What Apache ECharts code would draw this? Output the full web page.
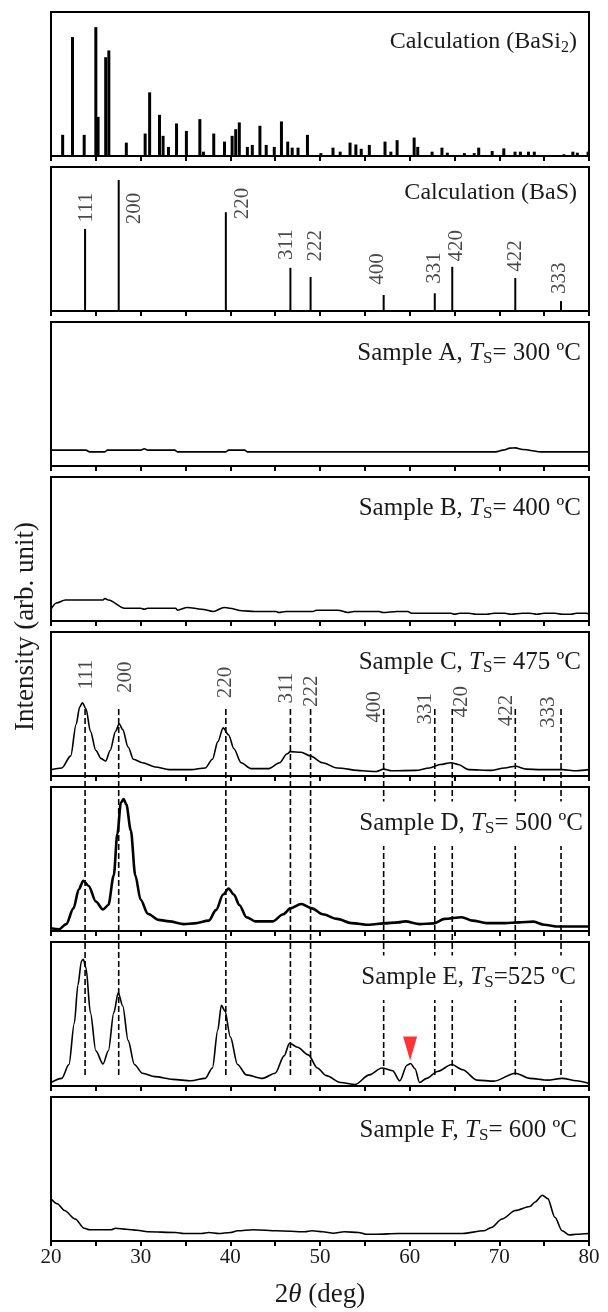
<!DOCTYPE html>
<html><head><meta charset="utf-8">
<script src="https://cdn.jsdelivr.net/npm/echarts@6/dist/echarts.min.js"></script>
<style>html,body{margin:0;padding:0;background:#fff}#c{width:608px;height:1312px}</style>
</head><body><div id="c"></div>
<script>
// ---------------- data ----------------
const xMin = 20, xMax = 80, xStep = 5;

// Calculation (BaSi2): line positions (deg) and relative intensity (%)
const basi2Pos = [21.3,22.4,23.7,25.0,25.25,26.1,26.45,28.4,30.5,31.0,32.1,32.5,33.1,34.0,35.1,36.6,37.0,38.15,39.35,40.2,40.6,41.0,41.9,42.45,43.3,44.0,44.9,45.7,46.4,46.9,47.55,48.6,50.1,51.45,52.25,53.35,54.0,54.6,55.5,57.25,57.9,58.6,60.5,60.9,62.5,63.6,64.2,66.1,67.2,67.7,69.2,70.5,71.75,72.35,73.25,73.9,77.2,78.2,78.7,79.9];
const basi2Int = [14.7,82.6,14.7,89.5,27.2,68.6,73.3,9.3,15.6,44.2,28.6,14.0,6.3,22.6,17.4,25.6,3.0,15.6,10.0,14.0,18.6,23.3,6.3,7.7,21.0,7.7,6.3,24.0,10.0,5.8,5.8,14.7,2.0,5.8,3.0,9.3,8.0,5.0,7.7,10.0,3.0,11.0,12.8,6.3,3.0,5.8,2.3,2.0,2.0,5.8,3.5,5.3,3.0,3.0,3.0,3.0,1.2,3.0,2.3,3.0];

// Calculation (BaS): reflections
const hkl = ['111','200','220','311','222','400','331','420','422','333'];
const basPos = [23.8,27.55,39.5,46.7,48.95,57.1,62.8,64.75,71.78,76.88];
const basInt = [57.0,91.0,68.6,30.0,23.6,11.1,12.3,30.7,22.9,6.9];

// measured patterns: [2theta, intensity %]
const sampleA = [[20,11.0],[23.9,11.0],[24.3,9.8],[26.0,9.8],[26.3,11.0],[30.0,11.0],[30.4,12.0],[30.8,11.0],[33.8,11.0],[34.1,9.8],[39.5,9.8],[39.8,11.0],[41.6,11.0],[41.9,9.8],[69.6,9.8],[70.4,11.0],[71.2,12.4],[71.8,12.6],[72.6,11.5],[74.8,9.8],[80,9.8]];
const sampleB = [[20,8.2],[20.6,12.5],[21.6,14.6],[25.8,14.6],[26.0,15.6],[26.4,14.6],[28.2,8.9],[30.0,8.9],[30.4,8.2],[30.8,8.9],[33.9,8.9],[34.1,7.5],[35.2,9.4],[36.8,8.2],[38.1,6.6],[39.3,9.4],[39.9,8.9],[41.3,7.1],[42.7,6.6],[45.1,6.6],[45.4,5.9],[46.2,6.6],[49.2,6.6],[49.6,7.5],[52.0,7.5],[53.1,5.9],[53.8,6.6],[56.6,6.6],[57.0,5.9],[58.6,6.6],[59.8,6.6],[60.2,5.4],[64.6,5.4],[65.0,4.7],[65.6,5.4],[66.6,5.4],[67.4,4.7],[68.6,4.7],[69.4,5.4],[70.6,5.4],[71.3,4.7],[72.6,5.4],[73.4,5.4],[74.2,4.7],[75.0,5.4],[76.2,5.4],[77.0,4.7],[78.0,4.7],[78.6,5.4],[79.7,5.4],[80,4.7]];
const sampleC = [[20,4.4],[21.2,5.6],[22.2,14.0],[22.8,35.8],[23.2,47.9],[23.5,50.8],[23.9,46.7],[24.4,31.0],[25.0,17.7],[25.6,12.1],[26.1,10.4],[26.6,17.7],[27.2,31.0],[27.6,36.3],[28.0,32.2],[28.6,20.1],[29.2,11.6],[30.2,9.2],[31.6,6.3],[33.2,4.4],[35.6,4.4],[37.2,5.6],[38.0,11.6],[38.6,23.7],[39.2,33.4],[39.8,28.6],[40.4,18.9],[41.2,9.2],[42.3,5.1],[44.3,5.1],[45.5,9.2],[46.3,15.3],[46.7,16.9],[47.9,16.5],[48.9,14.0],[50.3,9.2],[51.9,5.6],[54.7,3.6],[56.3,3.1],[57.1,4.8],[58.0,3.6],[60.7,3.9],[62.2,5.6],[63.4,8.0],[64.6,9.2],[65.4,8.0],[66.6,4.4],[69.0,3.9],[70.6,5.6],[71.8,6.8],[73.0,4.8],[74.6,4.4],[77.0,4.4],[78.6,3.6],[80,4.4]];
const sampleD = [[20,1.9],[20.9,1.2],[21.7,4.8],[22.5,15.7],[23.1,28.9],[23.6,34.9],[24.2,31.3],[25.0,20.5],[25.8,14.9],[26.4,18.1],[27.0,38.6],[27.4,67.5],[27.8,89.2],[28.1,91.6],[28.4,88.0],[28.9,69.9],[29.4,38.6],[30.0,21.7],[30.8,12.0],[32.0,7.7],[33.2,6.7],[34.8,4.8],[36.0,5.3],[37.6,7.2],[38.4,14.5],[39.2,25.3],[39.8,29.4],[40.4,25.3],[41.0,18.1],[41.8,9.6],[42.8,6.7],[44.7,6.7],[45.9,11.6],[46.7,15.7],[47.9,18.8],[49.1,15.7],[50.3,11.6],[51.9,8.4],[53.5,5.5],[55.5,4.3],[57.1,5.3],[58.7,6.0],[59.5,6.7],[61.1,4.8],[62.7,5.3],[63.9,8.4],[65.8,9.6],[67.0,7.2],[68.6,5.5],[70.6,5.5],[72.2,6.0],[73.8,6.5],[75.0,4.3],[76.6,3.1],[80,3.1]];
const sampleE = [[20,2.4],[21.2,5.3],[22.0,14.9],[22.6,43.6],[23.0,70.0],[23.4,86.8],[23.6,88.0],[23.9,82.0],[24.4,50.8],[25.0,24.5],[25.8,15.3],[26.4,24.5],[27.0,50.8],[27.5,64.7],[28.0,55.6],[28.6,31.7],[29.3,14.9],[30.2,8.9],[31.6,6.5],[33.6,4.6],[35.6,3.6],[37.2,5.3],[38.0,12.5],[38.6,38.8],[39.0,56.1],[39.4,52.0],[40.0,34.1],[40.8,14.9],[41.8,7.7],[43.6,5.3],[45.0,8.9],[46.0,20.9],[46.6,29.7],[47.5,26.9],[48.7,21.6],[49.7,12.5],[50.7,7.2],[52.3,2.4],[53.9,1.0],[55.5,7.7],[56.9,12.5],[58.1,10.6],[58.9,3.6],[59.7,14.4],[60.1,15.6],[60.6,12.0],[61.1,2.4],[61.9,5.3],[63.1,10.1],[64.7,14.9],[65.9,11.3],[67.5,4.1],[69.4,3.4],[71.8,8.9],[73.4,5.3],[75.4,4.1],[77.0,5.3],[78.6,3.6],[80,1.7]];
const sampleF = [[20,29.4],[20.7,25.9],[21.5,21.2],[22.7,15.3],[23.7,8.9],[24.3,7.8],[26.7,7.8],[27.2,8.9],[28.4,8.2],[29.6,7.5],[30.8,6.4],[33.9,5.9],[34.8,5.2],[36.8,5.2],[37.6,5.9],[38.7,5.2],[40.0,5.9],[40.8,7.1],[42.6,7.8],[45.2,7.1],[48.3,6.4],[49.1,7.1],[50.3,6.4],[51.5,5.4],[52.7,6.4],[54.3,5.9],[55.1,4.7],[56.3,4.7],[58.7,5.2],[62.7,5.2],[65.9,5.2],[68.3,7.1],[69.1,9.4],[70.3,15.3],[71.8,21.2],[73.4,24.0],[74.0,27.1],[74.8,31.8],[75.4,29.4],[76.2,16.5],[77.0,7.1],[77.8,4.2],[78.6,4.7],[80,5.2]];

// red marker (unidentified peak in sample E): [2theta, level %]
const redMark = [60.05, 26];

// panel texts
const panelText = [
  '{c|Calculation (BaSi}{cs|2}{c|)}',
  '{c|Calculation (BaS)}',
  '{n|Sample A, }{i|T}{s|S}{n|= 300 ºC}',
  '{n|Sample B, }{i|T}{s|S}{n|= 400 ºC}',
  '{n|Sample C, }{i|T}{s|S}{n|= 475 ºC}',
  '{n|Sample D, }{i|T}{s|S}{n|= 500 ºC}',
  '{n|Sample E, }{i|T}{s|S}{n|=525 ºC}',
  '{n|Sample F, }{i|T}{s|S}{n|= 600 ºC}'
];
const xTitle = '{n|2}{i|θ}{n| (deg)}';
const yTitle = 'Intensity (arb. unit)';

// ---------------- layout (pixels / label anchors) ----------------
const LEFT = 51, RIGHT = 19, TOP0 = 12, PITCH = 155, PH = 144;
const textCenter = [30, 26, 31, 31, 30, 36, 35, 33];
const textRight  = [31, 31, 27, 27, 27, 25, 32, 31];
// hkl label anchors (label foot) in panel 2 and panel 5: [deg, % height]
const basLabelAt = [[23.98,61.5],[29.36,60.3],[41.3,63.8],[46.27,35.5],[49.46,34.3],[56.42,18.2],[62.8,18.9],[65.18,34.3],[71.75,27.2],[76.73,11.8]];
const cLabelAt   = [[23.98,60],[28.36,57.6],[39.43,54],[46.27,50.4],[49.06,47.9],[56.03,37],[61.8,35.8],[65.78,40.7],[70.76,34.6],[75.53,33.4]];
const DASH_TOP = 709, DASH_BOTTOM = 1075;

const FONT = 'Liberation Serif';
const TXT = '#1a1a1a';
const rich = {
  c: {fontFamily: FONT, fontSize: 24, fontWeight: 'normal', color: TXT, lineHeight: 28},
  cs: {fontFamily: FONT, fontSize: 16, fontWeight: 'normal', color: TXT, lineHeight: 16, verticalAlign: 'bottom'},
  n: {fontFamily: FONT, fontSize: 25, fontWeight: 'normal', color: TXT, lineHeight: 28},
  i: {fontFamily: FONT, fontSize: 25, fontWeight: 'normal', fontStyle: 'italic', color: TXT, lineHeight: 28},
  s: {fontFamily: FONT, fontSize: 17, fontWeight: 'normal', color: TXT, lineHeight: 16, verticalAlign: 'bottom'}
};

const grids = [], xAxes = [], yAxes = [], series = [], titles = [];
for (let i = 0; i < 8; i++) {
  const top = TOP0 + i * PITCH;
  grids.push({left: LEFT, right: RIGHT, top: top, height: PH, show: true,
    borderColor: '#000', borderWidth: 2, backgroundColor: 'transparent'});
  xAxes.push({
    type: 'value', gridIndex: i, min: xMin, max: xMax, interval: xStep,
    axisLine: {show: true, onZero: false, lineStyle: {color: '#000', width: 2}},
    axisTick: {show: true, inside: false, length: 5, lineStyle: {color: '#000', width: 2}},
    splitLine: {show: false},
    axisLabel: {show: i === 7, margin: 6, fontFamily: FONT, fontSize: 21, color: TXT,
      formatter: v => (v % 10 === 0 ? String(v) : ''), showMinLabel: true, showMaxLabel: true},
    name: i === 7 ? xTitle : '', nameLocation: 'middle', nameGap: 40,
    nameTextStyle: {rich: {
      n: {fontFamily: FONT, fontSize: 27, color: TXT},
      i: {fontFamily: FONT, fontSize: 27, fontStyle: 'italic', color: TXT}}}
  });
  yAxes.push({type: 'value', gridIndex: i, min: 0, max: 100, show: false});
  const bg = (i === 5 || i === 6);
  titles.push({
    text: panelText[i], right: textRight[i] - (bg ? 4 : 0), top: top + textCenter[i] - 14 - (bg ? 9 : 0),
    padding: bg ? [9, 4] : 0, backgroundColor: bg ? '#fff' : 'transparent',
    textStyle: {fontWeight: 'normal', rich: rich}
  });
}
// overlay grid for dashed reference lines
grids.push({left: LEFT, right: RIGHT, top: DASH_TOP, height: DASH_BOTTOM - DASH_TOP, show: false});
xAxes.push({type: 'value', gridIndex: 8, min: xMin, max: xMax, show: false});
yAxes.push({type: 'value', gridIndex: 8, min: 0, max: 1, show: false});
// overlay grid for y-axis title
grids.push({left: LEFT, right: RIGHT, top: TOP0, height: 7 * PITCH + PH, show: false});
xAxes.push({type: 'value', gridIndex: 9, min: xMin, max: xMax, show: false});
yAxes.push({type: 'value', gridIndex: 9, min: 0, max: 1, show: true,
  axisLine: {show: false}, axisTick: {show: false}, axisLabel: {show: false}, splitLine: {show: false},
  name: yTitle, nameLocation: 'middle', nameGap: 12, nameRotate: 90,
  nameTextStyle: {fontFamily: FONT, fontSize: 27, color: TXT}});

// BaSi2 calc bars
series.push({type: 'bar', xAxisIndex: 0, yAxisIndex: 0, barWidth: 3, silent: true,
  itemStyle: {color: '#000'}, data: basi2Pos.map((p, k) => [p, basi2Int[k]])});
// BaS calc sticks
series.push({type: 'bar', xAxisIndex: 1, yAxisIndex: 1, barWidth: 2, silent: true,
  itemStyle: {color: '#000'}, data: basPos.map((p, k) => [p, basInt[k]])});
const hklLabel = {show: true, position: 'inside', rotate: 90, align: 'left', verticalAlign: 'middle',
  fontFamily: FONT, fontSize: 21, color: TXT, formatter: p => hkl[p.dataIndex]};
series.push({type: 'scatter', xAxisIndex: 1, yAxisIndex: 1, symbolSize: 0, silent: true,
  label: hklLabel, data: basLabelAt});
// measured curves
[sampleA, sampleB, sampleC, sampleD, sampleE, sampleF].forEach((d, k) => {
  series.push({type: 'line', xAxisIndex: k + 2, yAxisIndex: k + 2, showSymbol: false, silent: true,
    smooth: 0.3, smoothMonotone: 'x',
    lineStyle: {color: '#000', width: k === 3 ? 2.6 : 1.6}, data: d});
});
series.push({type: 'scatter', xAxisIndex: 4, yAxisIndex: 4, symbolSize: 0, silent: true,
  label: hklLabel, data: cLabelAt});
// dashed reference lines
basPos.forEach(p => {
  series.push({type: 'line', xAxisIndex: 8, yAxisIndex: 8, showSymbol: false, silent: true, z: 1,
    lineStyle: {color: '#000', width: 1.6, type: [6, 3]}, data: [[p, 1], [p, 0]]});
});
// red marker
series.push({type: 'scatter', xAxisIndex: 6, yAxisIndex: 6, symbol: 'triangle', symbolRotate: 180,
  symbolSize: [14, 24], itemStyle: {color: '#ff0000'}, silent: true, data: [redMark]});

const chart = echarts.init(document.getElementById('c'), null, {renderer: 'canvas'});
chart.setOption({animation: false, backgroundColor: '#fff', title: titles, grid: grids,
  xAxis: xAxes, yAxis: yAxes, series: series});
</script></body></html>
